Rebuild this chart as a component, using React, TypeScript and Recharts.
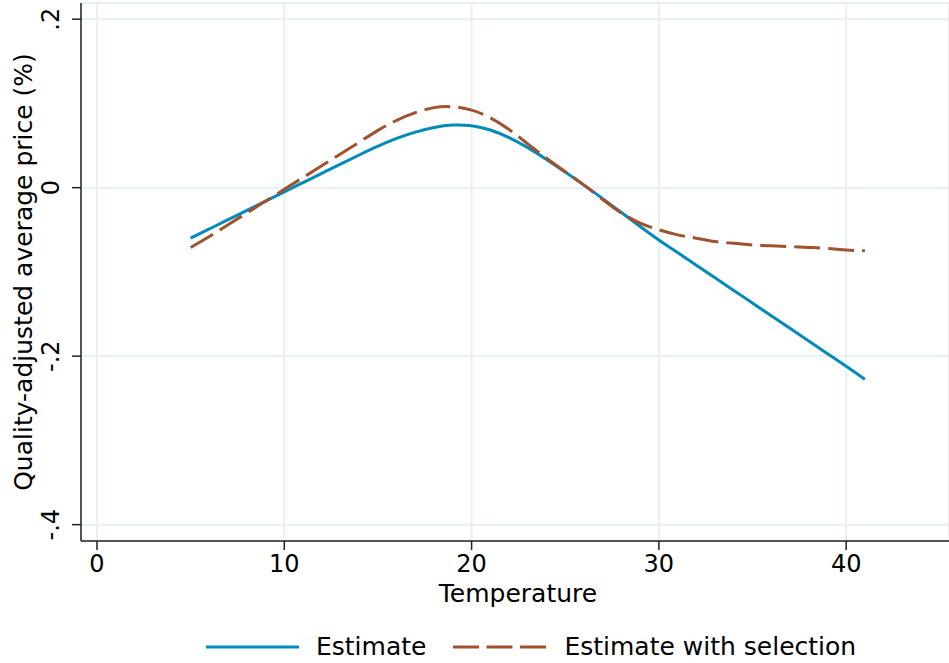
import React from 'react';
import { LineChart, Line, XAxis, YAxis, CartesianGrid, Legend, Label } from 'recharts';

const temps = [5, 6, 7, 8, 9, 10, 11, 12, 13, 14, 15, 16, 17, 18, 19, 20, 21, 22, 23, 24, 25, 26, 27, 28, 29, 30, 31, 32, 33, 34, 35, 36, 37, 38, 39, 40, 41];

const estimate = [
  -0.06, -0.049, -0.038, -0.027, -0.016, -0.005, 0.006, 0.017, 0.028, 0.0388,
  0.0492, 0.0585, 0.066, 0.0715, 0.0743, 0.0735, 0.0685, 0.0595, 0.0475, 0.0335,
  0.0185, 0.003, -0.013, -0.0295, -0.046, -0.062, -0.077, -0.092, -0.107, -0.122,
  -0.137, -0.152, -0.167, -0.182, -0.197, -0.212, -0.2275,
];

const withSelection = [
  -0.071, -0.058, -0.044, -0.03, -0.016, -0.002, 0.012, 0.026, 0.04, 0.054,
  0.068, 0.08, 0.089, 0.095, 0.096, 0.092, 0.083, 0.069, 0.052, 0.035,
  0.019, 0.003, -0.014, -0.03, -0.042, -0.05, -0.056, -0.06, -0.064, -0.066,
  -0.068, -0.069, -0.07, -0.071, -0.072, -0.074, -0.075,
];

const xTicks = [0, 10, 20, 30, 40];
const yTicks = [-0.4, -0.2, 0, 0.2];
const yTickLabels = ['-.4', '-.2', '0', '.2'];

const BLUE = '#008bbc';
const BROWN = '#a0522d';
const FONT = '"DejaVu Sans", sans-serif';

const rows = temps.map((t, i) => ({ temp: t, est: estimate[i], sel: withSelection[i] }));

const YTick = (props: any) => {
  const { x, y, payload } = props;
  const idx = yTicks.indexOf(payload.value);
  const label = idx >= 0 ? yTickLabels[idx] : String(payload.value);
  return (
    <text x={x} y={y} transform={`rotate(-90, ${x}, ${y})`} textAnchor="middle" fontSize={24} fontFamily={FONT} fill="#000">
      {label}
    </text>
  );
};

const YLabel = (props: any) => {
  const vb = props.viewBox || {};
  const cy = vb.y + vb.height / 2;
  return (
    <text x={32} y={cy} transform={`rotate(-90, 32, ${cy})`} textAnchor="middle" fontSize={25} fontFamily={FONT} fill="#000">
      Quality-adjusted average price (%)
    </text>
  );
};

const LegendBox = () => (
  <div style={{ display: 'flex', alignItems: 'center', fontFamily: FONT, fontSize: 25, color: '#000', whiteSpace: 'nowrap' }}>
    <svg width={93} height={8}>
      <line x1={0} y1={4} x2={93} y2={4} stroke={BLUE} strokeWidth={3} />
    </svg>
    <span style={{ marginLeft: 17 }}>Estimate</span>
    <svg width={93} height={8} style={{ marginLeft: 27 }}>
      <line x1={0} y1={4} x2={93} y2={4} stroke={BROWN} strokeWidth={3} strokeDasharray="26 7.5" />
    </svg>
    <span style={{ marginLeft: 18 }}>Estimate with selection</span>
  </div>
);

export default function App() {
  return (
    <div style={{ position: 'absolute', left: 0, top: 0, background: '#fff' }}>
      <LineChart width={949} height={663} data={rows} margin={{ top: 3, right: 0, bottom: 0, left: 0 }}>
        <CartesianGrid stroke="#e8f0f2" strokeWidth={2} />
        <XAxis
          dataKey="temp"
          type="number"
          domain={[-0.854, 45.49]}
          ticks={xTicks}
          allowDataOverflow
          height={122}
          tickSize={9}
          tickMargin={5}
          axisLine={{ stroke: '#222', strokeWidth: 1.5 }}
          tickLine={{ stroke: '#222', strokeWidth: 1.5 }}
          tick={{ fontSize: 24, fontFamily: FONT, fill: '#000' }}
        >
          <Label
            content={() => (
              <text x={518} y={602} textAnchor="middle" fontSize={25} fontFamily={FONT} fill="#000">
                Temperature
              </text>
            )}
          />
        </XAxis>
        <YAxis
          type="number"
          domain={[-0.4194, 0.2192]}
          ticks={yTicks}
          allowDataOverflow
          width={81}
          tickSize={9}
          tickMargin={13}
          axisLine={{ stroke: '#222', strokeWidth: 1.5 }}
          tickLine={{ stroke: '#222', strokeWidth: 1.5 }}
          tick={<YTick />}
        >
          <Label content={<YLabel />} />
        </YAxis>
        <Legend
          layout="horizontal"
          verticalAlign="middle"
          align="center"
          content={<LegendBox />}
          wrapperStyle={{ position: 'absolute', left: 206, top: 632, width: 720, height: 32 }}
        />
        <Line type="natural" dataKey="est" stroke={BLUE} strokeWidth={3} dot={false} isAnimationActive={false} />
        <Line type="natural" dataKey="sel" stroke={BROWN} strokeWidth={3} strokeDasharray="26 8" dot={false} isAnimationActive={false} />
      </LineChart>
    </div>
  );
}
